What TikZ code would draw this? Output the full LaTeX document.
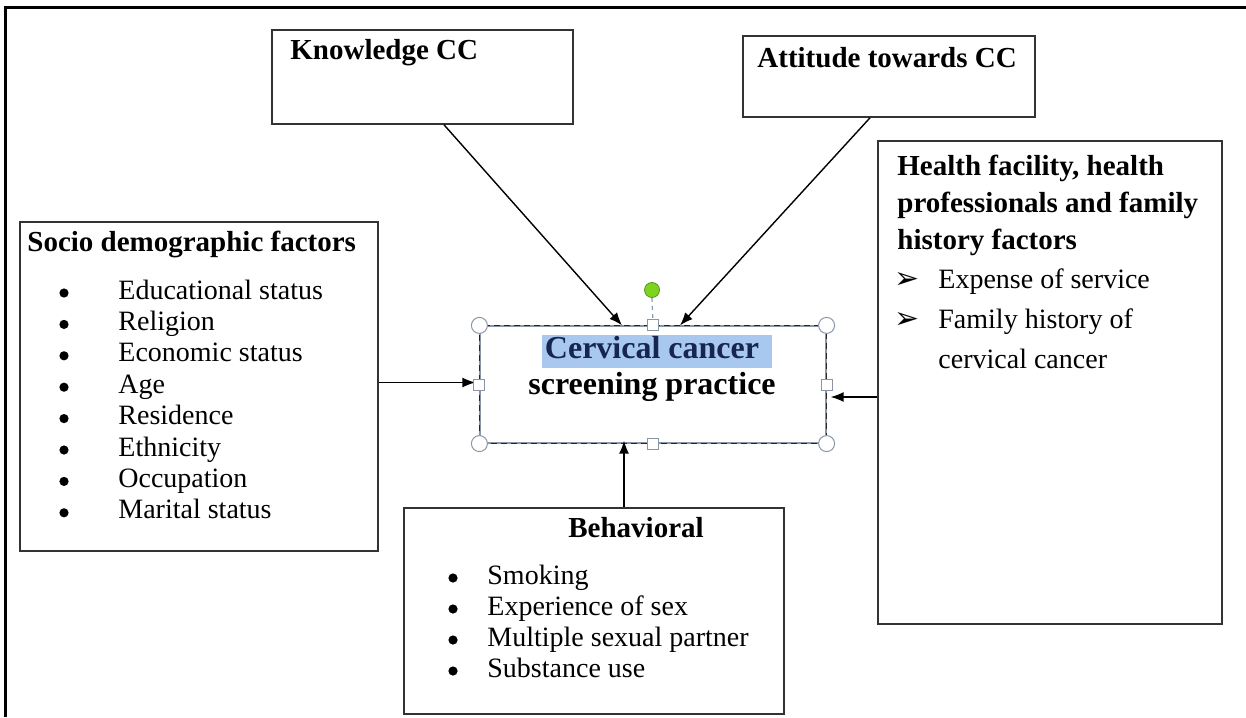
\documentclass[tikz,border=0pt]{standalone}
\usepackage{fontspec}
\setmainfont{Liberation Serif}
\newfontfamily\symfont{DejaVu Sans}
\usetikzlibrary{fit,calc,arrows.meta}
\definecolor{selblue}{HTML}{A9C8EF}
\definecolor{handlegray}{HTML}{8A96A6}
\definecolor{handlegreen}{HTML}{7ED321}
\definecolor{darknavy}{HTML}{16264F}
\tikzset{
  box/.style={draw=black!80, line width=0.8pt, inner sep=0pt},
  head/.style={anchor=base west, inner sep=0pt, font=\fontsize{14.5}{16}\selectfont\bfseries},
  item/.style={anchor=base west, inner sep=0pt, font=\fontsize{14}{16}\selectfont},
  dot/.style={circle, fill=black, minimum size=4.6pt, inner sep=0pt},
  tick/.style={anchor=base west, inner sep=0pt, font=\fontsize{15}{17}\selectfont\symfont},
  arr/.style={-{Latex[length=6.5pt,width=5pt]}, line width=0.7pt},
  handle/.style={circle, draw=handlegray, fill=white, line width=0.5pt, minimum size=8pt, inner sep=0pt},
  grip/.style={rectangle, draw=handlegray, fill=white, line width=0.5pt, minimum size=5.5pt, inner sep=0pt},
}
\begin{document}
\begin{tikzpicture}[x=0.5pt,y=-0.5pt]
\useasboundingbox (0,0) rectangle (1246,717);
% page frame
\draw[line width=1.5pt] (5,717) -- (5,8) -- (1246,8);

% boxes
\node[box, fit={(272,30) (573,124)}] (know) {};
\node[box, fit={(743,36) (1035,117)}] (att) {};
\node[box, fit={(20,222) (378,551)}] (socio) {};
\node[box, fit={(878,141) (1222,624)}] (health) {};
\node[box, fit={(404,508) (784,714)}] (behav) {};
\node[draw=handlegray, line width=0.6pt, inner sep=0pt, fit={(480,326) (826,443)}] (core) {};
\draw[black!85, line width=0.6pt, dash pattern=on 3pt off 2pt] (core.north west) rectangle (core.south east);

% texts
\node[head] (knowt) at (290,60) {Knowledge CC};
\node[head] (attt) at (757,68) {Attitude towards CC};

\node[head] (sociot) at (27,251) {Socio demographic factors};
\foreach \t [count=\i from 0] in {Educational status, Religion, Economic status, Age, Residence, Ethnicity, Occupation, Marital status}
  {
  \node[dot] (sd\i) at (64,{293+31.4*\i}) {};
  \node[item] (st\i) at (118,{299+31.4*\i}) {\t};
  }

\node[head] (healtha) at (897,175) {Health facility, health};
\node[head] (healthb) at (897,212) {professionals and family};
\node[head] (healthc) at (897,249) {history factors};
\node[tick] (hd0) at (894,288) {➢};
\node[item] (ht0) at (938,288) {Expense of service};
\node[tick] (hd1) at (894,328) {➢};
\node[item] (ht1) at (938,328) {Family history of};
\node[item] (ht2) at (938,368) {cervical cancer};

\node[head, anchor=base] (behavt) at (636,537) {Behavioral};
\foreach \t [count=\i from 0] in {Smoking, Experience of sex, Multiple sexual partner, Substance use}
  {
  \node[dot] (bd\i) at (453,{578+31*\i}) {};
  \node[item] (bt\i) at (487,{584+31*\i}) {\t};
  }

\fill[selblue] (542,335) rectangle (772,368);
\node[anchor=base, inner sep=0pt, text=darknavy, font=\fontsize{16}{18}\selectfont\bfseries] (corea) at (652,358) {Cervical cancer};
\node[anchor=base, inner sep=0pt, font=\fontsize{16}{18}\selectfont\bfseries] (coreb) at (652,394) {screening practice};

% arrows
\coordinate (kin) at ($(core.north)+(-31,0)$);
\coordinate (ain) at ($(core.north)+(27,0)$);
\coordinate (sin) at ($(core.west)+(-4,-2)$);
\coordinate (hin) at ($(core.east)+(4,12.5)$);
\coordinate (bin) at ($(core.south)+(-29,-3)$);
\draw[arr] ($(know.south)+(21.5,0)$) -- (kin);
\draw[arr] ($(att.south)+(-19,0)$) -- (ain);
\draw[arr] (socio.east |- sin) -- (sin);
\draw[arr] (health.west |- hin) -- (hin);
\draw[arr] (behav.north -| bin) -- (bin);

% selection handles
\node[circle, fill=handlegreen, draw=handlegreen!70!black, line width=0.4pt, minimum size=7.5pt, inner sep=0pt] (rot) at (652,290) {};
\draw[handlegray, line width=0.6pt, dash pattern=on 2pt off 2pt] (rot.south) -- (core.north);
\foreach \a in {north west, north east, south west, south east}
  \node[handle] (h-\a) at (core.\a) {};
\foreach \a in {north, south, west, east}
  \node[grip] (g-\a) at (core.\a) {};
\end{tikzpicture}
\end{document}
